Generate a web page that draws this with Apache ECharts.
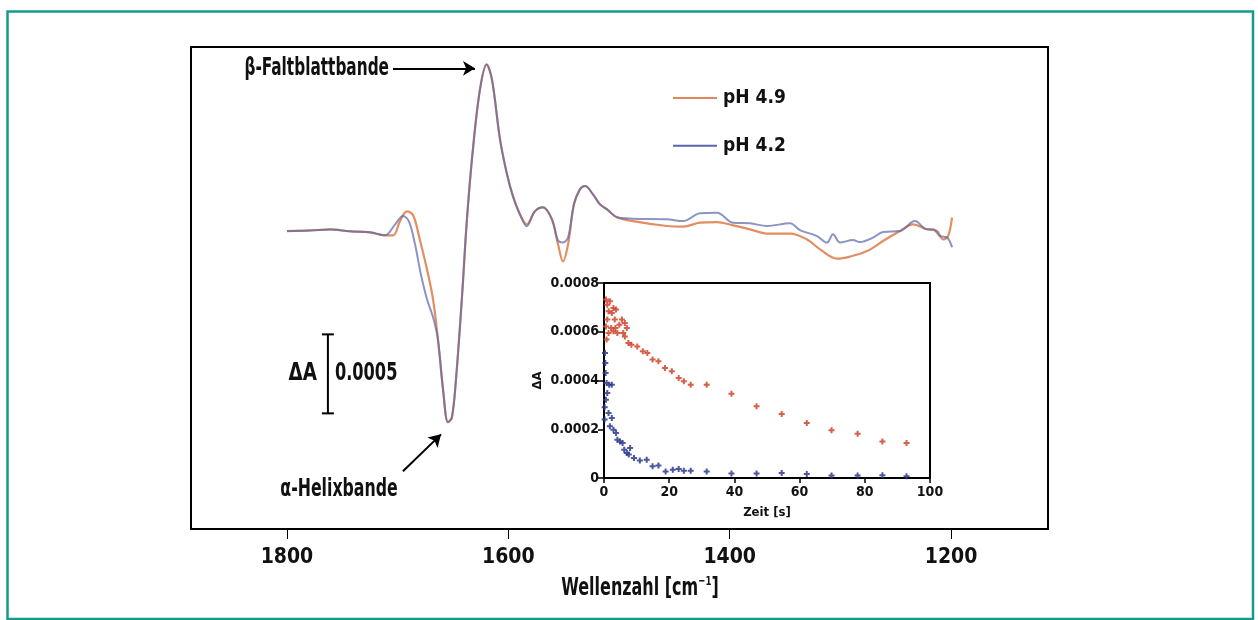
<!DOCTYPE html>
<html><head><meta charset="utf-8">
<script src="https://cdn.jsdelivr.net/npm/echarts@6/dist/echarts.min.js"></script>
<style>html,body{margin:0;padding:0;background:#fff}#c{width:1258px;height:620px}</style>
</head><body><div id="c"></div>
<script>
// ---- Main spectrum data (ΔA in units of 1e-4) ----
const wn49 = [1800,1779,1761,1743,1725,1711.4,1704,1698,1691.6,1686,1680,1673.5,1668,1663.6,1659,1654.5,1651,1647.3,1642,1637.4,1632,1625.6,1619.6,1614.8,1607.5,1601.2,1595.8,1589.5,1583.4,1576,1568.7,1560.6,1555.1,1550.6,1546,1540.7,1535.3,1530.7,1523.5,1517.2,1510.8,1501.8,1487.4,1456.6,1442.2,1426.8,1411.5,1397,1381.6,1366.3,1345.5,1330.1,1318.4,1303,1291.3,1275.9,1261.5,1246.1,1234.4,1221.7,1212.7,1207.2,1202.7,1199.1];
const dA49 = [0,0.04,0.1,-0.02,-0.08,-0.27,-0.27,0.61,1.25,1.0,-0.53,-2.42,-4.32,-6.85,-10.0,-12.1,-11.8,-9.4,-4.32,0.74,5.17,8.97,10.55,9.6,5.8,3.59,2.2,1.06,0.42,1.25,1.5,0.74,-0.84,-1.92,-0.84,1.69,2.64,2.85,2.32,1.69,1.37,0.87,0.63,0.32,0.28,0.53,0.57,0.36,0.11,-0.16,-0.16,-0.53,-1.16,-1.75,-1.62,-1.27,-0.63,0,0.42,0.11,0,-0.53,-0.32,0.85];
const wn42 = [1800,1779,1761,1743,1725,1711.4,1702.3,1695.2,1689.8,1684.3,1679,1673.5,1668,1663.6,1659,1654.5,1651,1647.3,1642,1637.4,1632,1625.6,1619.6,1614.8,1607.5,1601.2,1595.8,1589.5,1583.4,1576,1568.7,1560.6,1555.1,1550.6,1546,1540.7,1535.3,1530.7,1523.5,1517.2,1510.8,1501.8,1487.4,1456.6,1442.2,1426.8,1411.5,1397,1381.6,1366.3,1345.5,1336.5,1321.1,1312.1,1306.6,1300.3,1288.6,1282.3,1270.5,1261.5,1246.1,1232.6,1221.7,1216.3,1210,1203.6,1199.1];
const dA42 = [0,0.04,0.1,-0.02,-0.08,-0.27,0.42,0.95,0.61,-0.84,-2.74,-4.32,-5.46,-6.85,-10.0,-12.1,-11.8,-9.4,-4.32,0.74,5.17,8.97,10.55,9.6,5.8,3.59,2.2,1.06,0.3,1.25,1.5,0.74,-0.6,-0.72,-0.4,1.69,2.64,2.85,2.32,1.69,1.37,0.87,0.78,0.74,0.63,1.12,1.16,0.53,0.49,0.32,0.49,0.06,-0.32,-0.73,-0.21,-0.73,-0.57,-0.7,-0.42,-0.06,0,0.63,0.11,0.11,-0.32,-0.4,-1.03];
const mainTicks = [1800,1600,1400,1200];

// ---- Inset kinetics data ----
const t49 = [0.6,1.0,1.4,1.8,2.4,2.9,3.3,3.7,1.0,1.4,0.6,0.8,2.2,2.9,3.5,4.1,4.7,5.5,6.4,5.9,7.0,6.4,7.5,8.4,10.2,11.9,13.3,14.9,16.7,18.7,20.8,22.9,24.5,26.6,31.5,39.1,46.8,54.5,62.2,69.8,77.8,85.4,92.8];
const v49 = [0.000732,0.000711,0.000684,0.000725,0.000677,0.000697,0.00065,0.000691,0.00065,0.000595,0.000622,0.000568,0.000615,0.000602,0.000615,0.000595,0.000629,0.00065,0.000636,0.000595,0.000615,0.000581,0.000554,0.000547,0.00054,0.00052,0.000513,0.000486,0.000479,0.000451,0.000438,0.00041,0.000397,0.000383,0.000383,0.000346,0.000294,0.000263,0.000226,0.000196,0.000182,0.00015,0.000144];
const t42 = [0.3,0.4,0.5,0.8,1.6,2.4,1.0,0.6,0.2,0.2,1.4,2.4,1.8,2.9,3.7,4.1,4.9,5.7,6.2,7.0,8.0,7.6,9.2,11.0,13.1,14.9,16.7,18.9,21.1,22.9,24.5,26.6,31.5,39.1,46.8,54.5,62.2,69.8,77.8,85.4,92.8];
const v42 = [0.000513,0.000472,0.000431,0.00039,0.000383,0.000383,0.000349,0.000321,0.00029,0.00024,0.000267,0.000246,0.000212,0.000198,0.000185,0.000157,0.00015,0.000144,0.000116,0.000103,0.000123,0.000096,0.000082,0.000072,0.000075,0.000048,0.000051,0.000027,0.000034,0.000037,0.00003,0.00003,0.000027,0.000018,0.000018,0.000021,0.000016,0.00001,0.00001,0.000011,0.000007];

// ---- Scale bar (0.0005 = 5 units) and annotation arrows (data coords) ----
const scaleBar = {wn: 1763, top: -6.54, len: 5, label: '0.0005'};
const betaArrow = [[1704.2, 10.3], [1630.1, 10.3]];
const alphaArrow = [[1695.2, -15.21], [1660.8, -12.87]];

const FONT = "'Liberation Sans Narrow','DejaVu Sans Condensed','Liberation Sans',sans-serif";
const ORANGE = '#e0875a', BLUE = '#5a66aa';
const zip = (a, b) => a.map((x, i) => [x, b[i]]);
const plus = 'path://M2,0h2v2h2v2h-2v2h-2v-2h-2v-2h2z';

const chart = echarts.init(document.getElementById('c'), null, {renderer: 'canvas'});
const option = {
  animation: false,
  backgroundColor: '#fff',
  textStyle: {fontFamily: FONT},
  grid: [
    {left: 191, top: 47, right: 210, bottom: 91, show: true, borderColor: '#000', borderWidth: 2, backgroundColor: 'transparent'},
    {left: 604, top: 283, right: 328, bottom: 142, show: true, borderColor: '#000', borderWidth: 2, backgroundColor: '#fff', z: 5}
  ],
  legend: {
    left: 668, top: 81, orient: 'vertical', itemWidth: 44, itemHeight: 2, itemGap: 23.7, icon: 'rect',
    data: ['pH 4.9', 'pH 4.2'],
    textStyle: {fontFamily: FONT, fontWeight: 'bold', fontSize: 19, lineHeight: 24, color: '#111', padding: [0, 0, 0, 1]}
  },
  xAxis: [
    {gridIndex: 0, type: 'value', inverse: true, min: 1112.4, max: 1886.7,
     axisLine: {show: false, onZero: false}, splitLine: {show: false},
     axisTick: {show: true, inside: false, length: 10, customValues: mainTicks, lineStyle: {color: '#000', width: 1}},
     axisLabel: {show: true, customValues: mainTicks, margin: 18, fontFamily: FONT, fontWeight: 'bold', fontSize: 21, color: '#111',
       formatter: v => String(v)}},
    {gridIndex: 1, type: 'value', min: 0, max: 100, interval: 20,
     axisLine: {show: true, onZero: false, lineStyle: {color: '#000', width: 2}}, splitLine: {show: false},
     axisTick: {show: true, inside: false, length: 5, lineStyle: {color: '#000', width: 1.5}},
     axisLabel: {margin: 7, fontFamily: FONT, fontWeight: 'bold', fontSize: 14, color: '#111'},
     name: 'Zeit [s]', nameLocation: 'middle', nameGap: 28,
     nameTextStyle: {fontFamily: FONT, fontWeight: 'bold', fontSize: 13, color: '#111'}}
  ],
  yAxis: [
    {gridIndex: 0, type: 'value', min: -18.86, max: 11.65, show: false},
    {gridIndex: 1, type: 'value', min: 0, max: 0.0008, interval: 0.0002,
     axisLine: {show: true, onZero: false, lineStyle: {color: '#000', width: 2}}, splitLine: {show: false},
     axisTick: {show: true, inside: false, length: 6, lineStyle: {color: '#000', width: 1.5}},
     axisLabel: {margin: 5, fontFamily: FONT, fontWeight: 'bold', fontSize: 14, color: '#111',
       formatter: v => v === 0 ? '0' : v.toFixed(4)},
     name: 'ΔA', nameLocation: 'middle', nameGap: 60, nameRotate: 90,
     nameTextStyle: {fontFamily: FONT, fontWeight: 'bold', fontSize: 13, color: '#111'}}
  ],
  series: [
    {name: 'pH 4.9', type: 'line', xAxisIndex: 0, yAxisIndex: 0, data: zip(wn49, dA49), symbol: 'none', smooth: 0.35,
     lineStyle: {color: ORANGE, width: 2.2, opacity: 0.95}, itemStyle: {color: ORANGE}, z: 2,
     markLine: {silent: true, symbol: ['none', 'arrow'], symbolSize: [11, 12], animation: false,
       lineStyle: {color: '#000', width: 2, type: 'solid'}, label: {show: false},
       data: [
         [{coord: betaArrow[0]}, {coord: betaArrow[1]}],
         [{coord: alphaArrow[0]}, {coord: alphaArrow[1]}]
       ]}},
    {name: 'pH 4.2', type: 'line', xAxisIndex: 0, yAxisIndex: 0, data: zip(wn42, dA42), symbol: 'none', smooth: 0.35,
     lineStyle: {color: BLUE, width: 2, opacity: 0.7}, itemStyle: {color: BLUE}, z: 3},
    {type: 'custom', xAxisIndex: 0, yAxisIndex: 0, data: [[scaleBar.wn, scaleBar.top, scaleBar.top - scaleBar.len]], z: 4,
     renderItem: (params, api) => {
       const a = api.coord([api.value(0), api.value(1)]);
       const b = api.coord([api.value(0), api.value(2)]);
       const ls = {stroke: '#000', lineWidth: 2};
       const mid = (a[1] + b[1]) / 2;
       return {type: 'group', children: [
         {type: 'line', shape: {x1: a[0], y1: a[1], x2: b[0], y2: b[1]}, style: ls},
         {type: 'line', shape: {x1: a[0] - 6, y1: a[1], x2: a[0] + 6, y2: a[1]}, style: ls},
         {type: 'line', shape: {x1: b[0] - 6, y1: b[1], x2: b[0] + 6, y2: b[1]}, style: ls},
         {type: 'text', x: a[0] - 11, y: mid, scaleX: 0.85, style: {text: 'ΔA', x: 0, y: 0, textAlign: 'right', textVerticalAlign: 'middle', font: 'bold 24px ' + FONT, fill: '#111'}},
         {type: 'text', x: a[0] + 7, y: mid, scaleX: 0.75, style: {text: scaleBar.label, x: 0, y: 0, textAlign: 'left', textVerticalAlign: 'middle', font: 'bold 24px ' + FONT, fill: '#111'}}
       ]};
     }},
    {name: 'k49', type: 'scatter', xAxisIndex: 1, yAxisIndex: 1, data: zip(t49, v49), symbol: plus, symbolSize: 6,
     itemStyle: {color: '#d0442a', opacity: 0.85}, z: 6},
    {name: 'k42', type: 'scatter', xAxisIndex: 1, yAxisIndex: 1, data: zip(t42, v42), symbol: plus, symbolSize: 6,
     itemStyle: {color: '#2e3a8c', opacity: 0.85}, z: 6}
  ],
  graphic: [
    {type: 'rect', silent: true, z: 100, shape: {x: 7.5, y: 11.5, width: 1245.5, height: 607.5},
     style: {fill: 'none', stroke: '#179a8c', lineWidth: 2.5}},
    {type: 'text', silent: true, z: 100, x: 389, y: 69, scaleX: 0.71,
     style: {text: 'β-Faltblattbande', x: 0, y: 0, textAlign: 'right', textVerticalAlign: 'middle', font: 'bold 24px ' + FONT, fill: '#111'}},
    {type: 'text', silent: true, z: 100, x: 339, y: 490, scaleX: 0.73,
     style: {text: 'α-Helixbande', x: 0, y: 0, textAlign: 'center', textVerticalAlign: 'middle', font: 'bold 24px ' + FONT, fill: '#111'}},
    {type: 'text', silent: true, z: 100, x: 640, y: 588, scaleX: 0.74,
     style: {text: '{a|Wellenzahl [cm}{s|−1}{a|]}', x: 0, y: 0, textAlign: 'center', textVerticalAlign: 'middle',
      rich: {a: {font: 'bold 24px ' + FONT, fill: '#111', lineHeight: 26, verticalAlign: 'bottom'},
             s: {font: 'bold 13px ' + FONT, fill: '#111', lineHeight: 13, verticalAlign: 'top'}}}}
  ]
};
chart.setOption(option);
</script>
</body></html>
